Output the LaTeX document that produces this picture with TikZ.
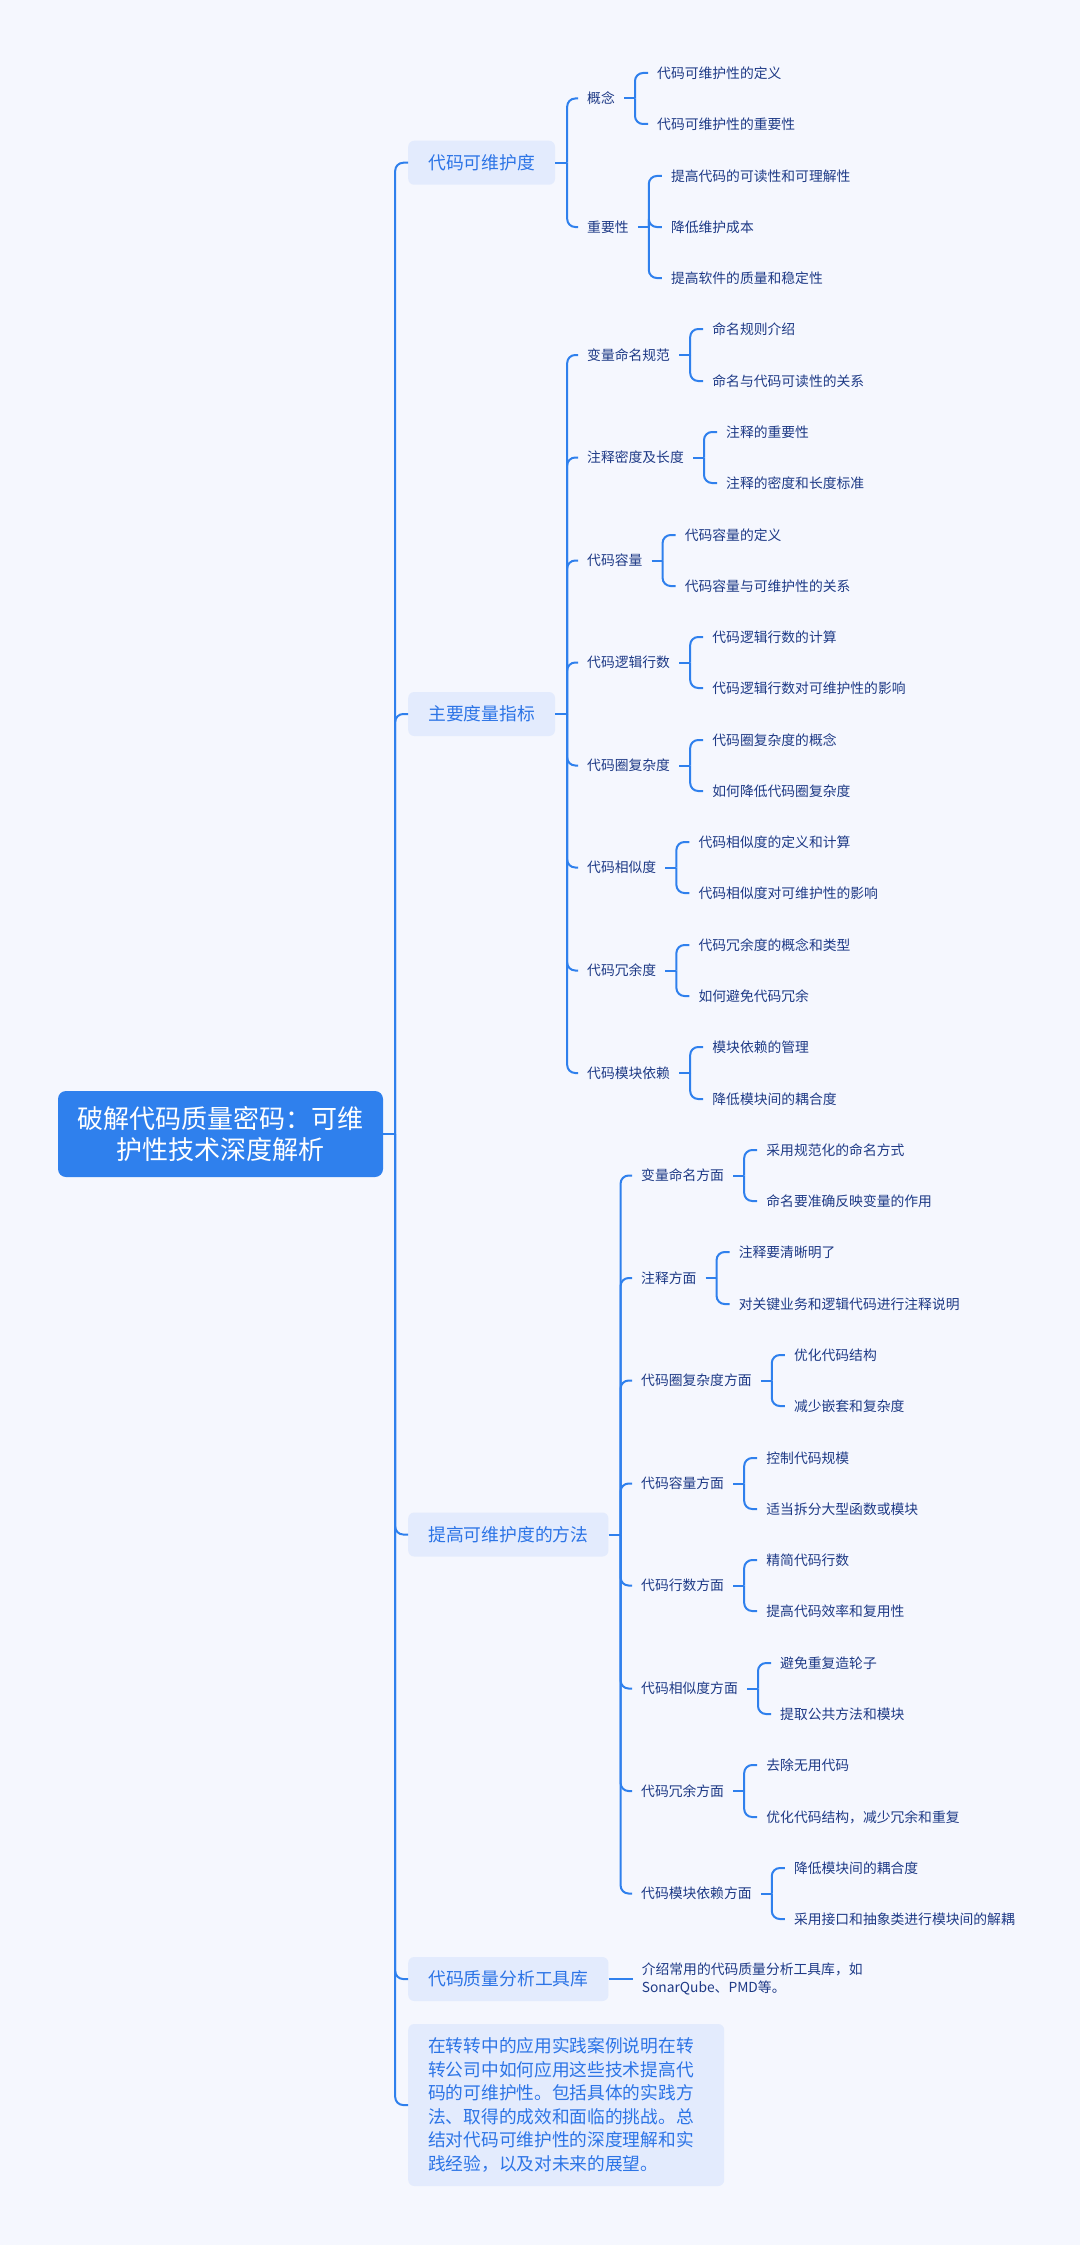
\documentclass[tikz,border=0pt]{standalone}
\usepackage{fontspec}
\setmainfont{Noto Sans CJK SC}
\usetikzlibrary{positioning}

\definecolor{bgcol}{HTML}{F5F7FE}
\definecolor{linecol}{HTML}{2F80ED}
\definecolor{rootcol}{HTML}{2F80ED}
\definecolor{boxcol}{HTML}{E3EBFD}
\definecolor{boxtext}{HTML}{2C74E6}
\definecolor{leaftext}{HTML}{1E3A86}

\tikzset{
  rootbox/.style={fill=rootcol, text=white, rounded corners=8pt, minimum width=325pt,
    minimum height=86pt, align=center, font=\fontsize{26}{31}\selectfont},
  mainbox/.style={fill=boxcol, text=boxtext, rounded corners=6pt, anchor=west, inner xsep=20pt,
    minimum height=44pt, text height=14.6pt, text depth=1pt, font=\fontsize{17.8}{22}\selectfont},
  sub/.style={text=leaftext, anchor=west, inner xsep=9pt, inner ysep=3pt,
    text height=11.3pt, text depth=0.8pt, font=\fontsize{13.8}{17}\selectfont},
  leaf/.style={sub, xshift=24pt},
  link/.style={draw=linecol, line width=2pt, rounded corners=8pt},
}

\begin{document}
\begin{tikzpicture}[x=1pt, y=-1pt]
\fill[bgcol] (0,0) rectangle (1080,2245);
\useasboundingbox (0,0) rectangle (1080,2245);

\node[rootbox] (v0) at (220.5,1134) {破解代码质量密码：可维\\护性技术深度解析};

% level one
\node[mainbox] (v1) at (408,162.75) {代码可维护度};
\node[mainbox] (v2) at (408,714) {主要度量指标};
\node[mainbox] (v3) at (408,1534.5) {提高可维护度的方法};
\node[mainbox] (v4) at (408,1979) {代码质量分析工具库};
\node[mainbox, text width=276pt, align=left, text height=, text depth=, minimum height=162pt,
  font=\fontsize{17.7}{23.5}\selectfont] (v5) at (408,2105)
  {在转转中的应用实践案例说明在转\\转公司中如何应用这些技术提高代\\码的可维护性。包括具体的实践方\\法、取得的成效和面临的挑战。总\\结对代码可维护性的深度理解和实\\践经验，以及对未来的展望。};
\draw[link] (v0.east) -- ++(12,0);
\draw[link] (v0.east) ++(12,0) |- (v1.west);
\draw[link] (v0.east) ++(12,0) |- (v2.west);
\draw[link] (v0.east) ++(12,0) |- (v3.west);
\draw[link] (v0.east) ++(12,0) |- (v4.west);
\draw[link] (v0.east) ++(12,0) |- (v5.west);

% 代码可维护度
\node[sub] (v11) at (578,98.5) {概念};
\node[sub] (v12) at (578,227) {重要性};
\node[leaf] (v111) at (v11.east |- 0,73) {代码可维护性的定义};
\node[leaf] (v112) at (v11.east |- 0,124) {代码可维护性的重要性};
\node[leaf] (v121) at (v12.east |- 0,176) {提高代码的可读性和可理解性};
\node[leaf] (v122) at (v12.east |- 0,227) {降低维护成本};
\node[leaf] (v123) at (v12.east |- 0,278) {提高软件的质量和稳定性};
\draw[link] (v1.east) -- ++(12,0);
\draw[link] (v1.east) ++(12,0) |- (v11.west);
\draw[link] (v1.east) ++(12,0) |- (v12.west);
\draw[link] (v11.east) -- ++(11,0);
\draw[link] (v11.east) ++(11,0) |- (v111.west);
\draw[link] (v11.east) ++(11,0) |- (v112.west);
\draw[link] (v12.east) -- ++(11,0);
\draw[link] (v12.east) ++(11,0) |- (v121.west);
\draw[link] (v12.east) ++(11,0) |- (v122.west);
\draw[link] (v12.east) ++(11,0) |- (v123.west);

% 主要度量指标
\node[sub] (v21) at (578,355) {变量命名规范};
\node[sub] (v22) at (578,457.5) {注释密度及长度};
\node[sub] (v23) at (578,560.5) {代码容量};
\node[sub] (v24) at (578,662.5) {代码逻辑行数};
\node[sub] (v25) at (578,765.5) {代码圈复杂度};
\node[sub] (v26) at (578,867.5) {代码相似度};
\node[sub] (v27) at (578,970.5) {代码冗余度};
\node[sub] (v28) at (578,1073) {代码模块依赖};
\node[leaf] (v211) at (v21.east |- 0,329) {命名规则介绍};
\node[leaf] (v212) at (v21.east |- 0,381) {命名与代码可读性的关系};
\node[leaf] (v221) at (v22.east |- 0,432) {注释的重要性};
\node[leaf] (v222) at (v22.east |- 0,483) {注释的密度和长度标准};
\node[leaf] (v231) at (v23.east |- 0,535) {代码容量的定义};
\node[leaf] (v232) at (v23.east |- 0,586) {代码容量与可维护性的关系};
\node[leaf] (v241) at (v24.east |- 0,637) {代码逻辑行数的计算};
\node[leaf] (v242) at (v24.east |- 0,688) {代码逻辑行数对可维护性的影响};
\node[leaf] (v251) at (v25.east |- 0,740) {代码圈复杂度的概念};
\node[leaf] (v252) at (v25.east |- 0,791) {如何降低代码圈复杂度};
\node[leaf] (v261) at (v26.east |- 0,842) {代码相似度的定义和计算};
\node[leaf] (v262) at (v26.east |- 0,893) {代码相似度对可维护性的影响};
\node[leaf] (v271) at (v27.east |- 0,945) {代码冗余度的概念和类型};
\node[leaf] (v272) at (v27.east |- 0,996) {如何避免代码冗余};
\node[leaf] (v281) at (v28.east |- 0,1047) {模块依赖的管理};
\node[leaf] (v282) at (v28.east |- 0,1099) {降低模块间的耦合度};
\draw[link] (v2.east) -- ++(12,0);
\draw[link] (v2.east) ++(12,0) |- (v21.west);
\draw[link] (v2.east) ++(12,0) |- (v22.west);
\draw[link] (v2.east) ++(12,0) |- (v23.west);
\draw[link] (v2.east) ++(12,0) |- (v24.west);
\draw[link] (v2.east) ++(12,0) |- (v25.west);
\draw[link] (v2.east) ++(12,0) |- (v26.west);
\draw[link] (v2.east) ++(12,0) |- (v27.west);
\draw[link] (v2.east) ++(12,0) |- (v28.west);
\draw[link] (v21.east) -- ++(11,0);
\draw[link] (v21.east) ++(11,0) |- (v211.west);
\draw[link] (v21.east) ++(11,0) |- (v212.west);
\draw[link] (v22.east) -- ++(11,0);
\draw[link] (v22.east) ++(11,0) |- (v221.west);
\draw[link] (v22.east) ++(11,0) |- (v222.west);
\draw[link] (v23.east) -- ++(11,0);
\draw[link] (v23.east) ++(11,0) |- (v231.west);
\draw[link] (v23.east) ++(11,0) |- (v232.west);
\draw[link] (v24.east) -- ++(11,0);
\draw[link] (v24.east) ++(11,0) |- (v241.west);
\draw[link] (v24.east) ++(11,0) |- (v242.west);
\draw[link] (v25.east) -- ++(11,0);
\draw[link] (v25.east) ++(11,0) |- (v251.west);
\draw[link] (v25.east) ++(11,0) |- (v252.west);
\draw[link] (v26.east) -- ++(11,0);
\draw[link] (v26.east) ++(11,0) |- (v261.west);
\draw[link] (v26.east) ++(11,0) |- (v262.west);
\draw[link] (v27.east) -- ++(11,0);
\draw[link] (v27.east) ++(11,0) |- (v271.west);
\draw[link] (v27.east) ++(11,0) |- (v272.west);
\draw[link] (v28.east) -- ++(11,0);
\draw[link] (v28.east) ++(11,0) |- (v281.west);
\draw[link] (v28.east) ++(11,0) |- (v282.west);

% 提高可维护度的方法
\node[sub] (v31) at (632,1175.5) {变量命名方面};
\node[sub] (v32) at (632,1278) {注释方面};
\node[sub] (v33) at (632,1380.5) {代码圈复杂度方面};
\node[sub] (v34) at (632,1483.5) {代码容量方面};
\node[sub] (v35) at (632,1585.5) {代码行数方面};
\node[sub] (v36) at (632,1688.5) {代码相似度方面};
\node[sub] (v37) at (632,1791) {代码冗余方面};
\node[sub] (v38) at (632,1893.5) {代码模块依赖方面};
\node[leaf] (v311) at (v31.east |- 0,1150) {采用规范化的命名方式};
\node[leaf] (v312) at (v31.east |- 0,1201) {命名要准确反映变量的作用};
\node[leaf] (v321) at (v32.east |- 0,1252) {注释要清晰明了};
\node[leaf] (v322) at (v32.east |- 0,1304) {对关键业务和逻辑代码进行注释说明};
\node[leaf] (v331) at (v33.east |- 0,1355) {优化代码结构};
\node[leaf] (v332) at (v33.east |- 0,1406) {减少嵌套和复杂度};
\node[leaf] (v341) at (v34.east |- 0,1458) {控制代码规模};
\node[leaf] (v342) at (v34.east |- 0,1509) {适当拆分大型函数或模块};
\node[leaf] (v351) at (v35.east |- 0,1560) {精简代码行数};
\node[leaf] (v352) at (v35.east |- 0,1611) {提高代码效率和复用性};
\node[leaf] (v361) at (v36.east |- 0,1663) {避免重复造轮子};
\node[leaf] (v362) at (v36.east |- 0,1714) {提取公共方法和模块};
\node[leaf] (v371) at (v37.east |- 0,1765) {去除无用代码};
\node[leaf] (v372) at (v37.east |- 0,1817) {优化代码结构，减少冗余和重复};
\node[leaf] (v381) at (v38.east |- 0,1868) {降低模块间的耦合度};
\node[leaf] (v382) at (v38.east |- 0,1919) {采用接口和抽象类进行模块间的解耦};
\draw[link] (v3.east) -- ++(12,0);
\draw[link] (v3.east) ++(12,0) |- (v31.west);
\draw[link] (v3.east) ++(12,0) |- (v32.west);
\draw[link] (v3.east) ++(12,0) |- (v33.west);
\draw[link] (v3.east) ++(12,0) |- (v34.west);
\draw[link] (v3.east) ++(12,0) |- (v35.west);
\draw[link] (v3.east) ++(12,0) |- (v36.west);
\draw[link] (v3.east) ++(12,0) |- (v37.west);
\draw[link] (v3.east) ++(12,0) |- (v38.west);
\draw[link] (v31.east) -- ++(11,0);
\draw[link] (v31.east) ++(11,0) |- (v311.west);
\draw[link] (v31.east) ++(11,0) |- (v312.west);
\draw[link] (v32.east) -- ++(11,0);
\draw[link] (v32.east) ++(11,0) |- (v321.west);
\draw[link] (v32.east) ++(11,0) |- (v322.west);
\draw[link] (v33.east) -- ++(11,0);
\draw[link] (v33.east) ++(11,0) |- (v331.west);
\draw[link] (v33.east) ++(11,0) |- (v332.west);
\draw[link] (v34.east) -- ++(11,0);
\draw[link] (v34.east) ++(11,0) |- (v341.west);
\draw[link] (v34.east) ++(11,0) |- (v342.west);
\draw[link] (v35.east) -- ++(11,0);
\draw[link] (v35.east) ++(11,0) |- (v351.west);
\draw[link] (v35.east) ++(11,0) |- (v352.west);
\draw[link] (v36.east) -- ++(11,0);
\draw[link] (v36.east) ++(11,0) |- (v361.west);
\draw[link] (v36.east) ++(11,0) |- (v362.west);
\draw[link] (v37.east) -- ++(11,0);
\draw[link] (v37.east) ++(11,0) |- (v371.west);
\draw[link] (v37.east) ++(11,0) |- (v372.west);
\draw[link] (v38.east) -- ++(11,0);
\draw[link] (v38.east) ++(11,0) |- (v381.west);
\draw[link] (v38.east) ++(11,0) |- (v382.west);

% 代码质量分析工具库
\node[text=leaftext, inner xsep=9pt, align=left, font=\fontsize{13.8}{18}\selectfont,
  right=24pt of v4] (v41) {介绍常用的代码质量分析工具库，如\\SonarQube、PMD等。};
\draw[link] (v4.east) -- (v41.west);
\end{tikzpicture}
\end{document}
